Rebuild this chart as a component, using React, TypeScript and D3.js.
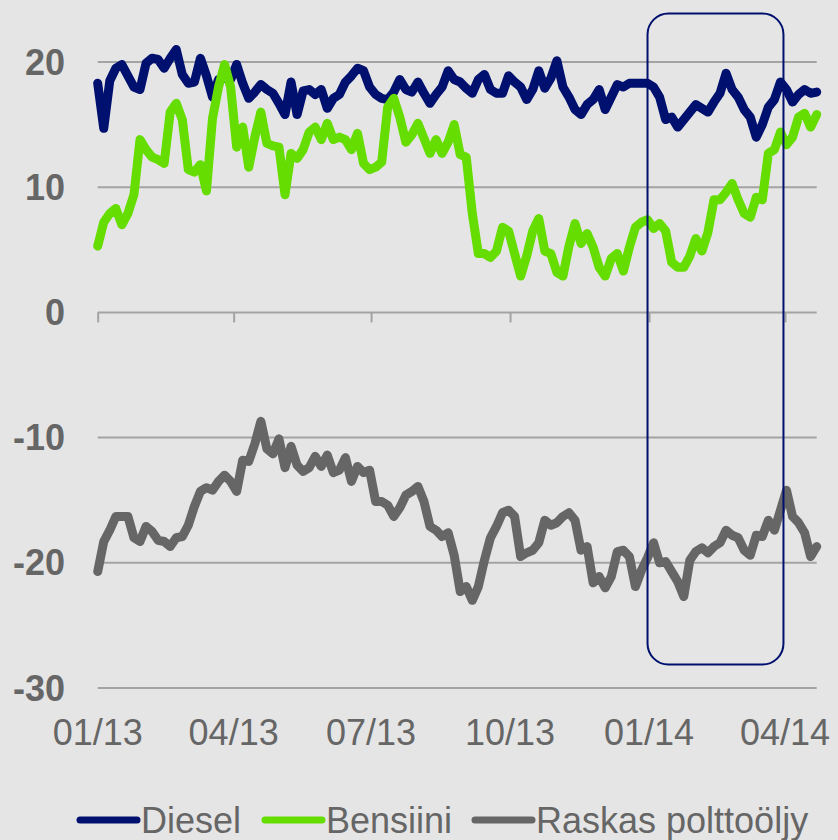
import React, { useRef, useEffect } from 'react';
import * as d3 from 'd3';

// readings every 4 days from 2013-01-01
const startDay = new Date(2013, 0, 1);
const stepDays = 4;

const diesel = [
  18.3, 14.7, 18.5, 19.5, 19.8, 18.9, 18.0, 17.8, 19.9, 20.3,
  20.2, 19.5, 20.3, 21.0, 19.0, 18.3, 18.4, 20.3, 18.9, 17.2,
  18.6, 18.7, 18.6, 19.8, 18.3, 17.1, 17.6, 18.2, 17.8, 17.5,
  16.7, 15.8, 18.4, 15.8, 17.7, 17.8, 17.4, 17.8, 16.3, 17.1,
  17.4, 18.4, 18.9, 19.5, 19.3, 18.0, 17.4, 17.1, 17.0, 17.6,
  18.6, 17.8, 17.6, 18.4, 17.5, 16.7, 17.4, 18.0, 19.3, 18.6,
  18.4, 17.9, 17.5, 18.6, 19.0, 17.8, 17.5, 17.5, 18.9, 18.4,
  18.0, 17.0, 17.8, 19.3, 17.9, 18.7, 20.1, 18.0, 17.2, 16.2,
  15.8, 16.6, 17.0, 17.8, 16.2, 17.2, 18.2, 18.0, 18.3, 18.3,
  18.3, 18.3, 18.0, 17.2, 15.4, 15.6, 14.8, 15.4, 16.0, 16.6,
  16.3, 16.0, 16.8, 17.5, 19.1, 17.8, 17.2, 16.2, 15.6, 14.0,
  15.0, 16.4, 17.0, 18.4, 17.8, 16.8, 17.4, 17.8, 17.5, 17.6,
];

const bensiini = [
  5.3, 7.2, 7.9, 8.3, 7.0, 7.9, 9.4, 13.8, 13.0, 12.4,
  12.2, 11.9, 16.0, 16.7, 15.4, 11.4, 11.2, 11.8, 9.7, 15.5,
  18.0, 19.8, 18.0, 13.2, 14.8, 11.6, 14.0, 16.0, 13.5, 13.3,
  13.2, 9.4, 12.7, 12.3, 13.0, 14.4, 14.8, 13.8, 15.1, 13.8,
  14.0, 13.8, 13.0, 14.3, 11.9, 11.4, 11.6, 12.0, 16.4, 17.1,
  15.6, 13.6, 14.2, 15.1, 13.9, 12.7, 13.8, 12.7, 13.6, 15.0,
  12.6, 12.4, 7.9, 4.7, 4.7, 4.4, 4.9, 6.8, 6.5, 4.7,
  2.9, 4.5, 6.5, 7.5, 4.9, 4.7, 3.2, 2.9, 5.3, 7.1,
  5.5, 6.3, 5.2, 3.6, 2.9, 4.3, 4.7, 3.3, 5.2, 6.8,
  7.2, 7.4, 6.7, 7.1, 6.5, 4.0, 3.6, 3.6, 4.5, 5.9,
  4.9, 6.4, 9.0, 9.0, 9.6, 10.3, 9.0, 7.9, 7.6, 9.2,
  9.0, 12.7, 13.0, 14.4, 13.4, 14.0, 15.6, 15.9, 14.8, 15.8,
];

const raskas = [
  -20.7, -18.3, -17.4, -16.3, -16.3, -16.3, -18.0, -18.3, -17.1, -17.5,
  -18.2, -18.3, -18.7, -18.0, -17.9, -17.0, -15.5, -14.3, -14.0, -14.2,
  -13.5, -13.0, -13.5, -14.3, -11.8, -11.9, -10.5, -8.7, -10.9, -11.3,
  -10.1, -12.4, -10.7, -12.2, -12.7, -12.4, -11.5, -12.3, -11.4, -12.8,
  -12.6, -11.6, -13.5, -12.3, -12.8, -12.6, -15.1, -15.1, -15.4, -16.3,
  -15.6, -14.6, -14.3, -13.9, -15.1, -17.1, -17.4, -17.9, -17.6, -19.4,
  -22.3, -21.9, -23.0, -21.9, -19.8, -18.0, -17.1, -16.0, -15.8, -16.3,
  -19.5, -19.2, -19.0, -18.4, -16.6, -17.0, -16.8, -16.3, -16.0, -16.6,
  -19.0, -18.7, -21.6, -21.1, -22.0, -21.1, -19.1, -19.0, -19.5, -21.9,
  -20.6, -19.6, -18.4, -20.0, -19.9, -20.7, -21.5, -22.7, -19.8, -19.1,
  -18.8, -19.2, -18.7, -18.4, -17.4, -17.8, -18.0, -19.0, -19.4, -17.8,
  -17.9, -16.6, -17.4, -15.8, -14.2, -16.3, -16.8, -17.6, -19.5, -18.7,
];

const seriesNames = ['Diesel', 'Bensiini', 'Raskas polttoöljy'];
const seriesColors = ['#00106e', '#66dd00', '#666666'];

const yTicks = [20, 10, 0, -10, -20, -30];
const quarterDates = [
  new Date(2013, 0, 1), new Date(2013, 3, 1), new Date(2013, 6, 1),
  new Date(2013, 9, 1), new Date(2014, 0, 1), new Date(2014, 3, 1),
];
const quarterLabels = ['01/13', '04/13', '07/13', '10/13', '01/14', '04/14'];

const W = 838;
const H = 840;

const App = () => {
  const ref = useRef<SVGSVGElement>(null);

  useEffect(() => {
    document.body.style.margin = '0';
    const svg = d3.select(ref.current);
    svg.selectAll('*').remove();

    svg.append('rect').attr('width', W).attr('height', H).attr('fill', '#e5e5e5');

    const x = d3.scaleTime()
      .domain([new Date(2013, 0, 1), new Date(2014, 3, 22)])
      .range([97.7, 816.7]);
    const y = d3.scaleLinear().domain([-30, 20]).range([688, 62]);

    // gridlines
    svg.append('g')
      .selectAll('line')
      .data(yTicks)
      .join('line')
      .attr('x1', x.range()[0])
      .attr('x2', x.range()[1])
      .attr('y1', d => y(d))
      .attr('y2', d => y(d))
      .attr('stroke', '#a3a3a3')
      .attr('stroke-width', 2);

    // quarter ticks hanging from the zero line
    const ax = svg.append('g')
      .attr('transform', `translate(0,${y(0)})`)
      .call(d3.axisBottom(x).tickValues(quarterDates).tickSize(10).tickFormat(() => ''));
    ax.select('.domain').remove();
    ax.selectAll('.tick line').attr('stroke', '#a3a3a3').attr('stroke-width', 2);

    // y labels
    svg.append('g')
      .selectAll('text')
      .data(yTicks)
      .join('text')
      .attr('x', 65)
      .attr('y', d => y(d) + 12.5)
      .attr('text-anchor', 'end')
      .attr('font-family', 'Liberation Sans, Arial, sans-serif')
      .attr('font-weight', 'bold')
      .attr('font-size', 36)
      .attr('fill', '#666666')
      .text(d => d);

    // x labels
    svg.append('g')
      .selectAll('text')
      .data(quarterDates)
      .join('text')
      .attr('x', d => x(d))
      .attr('y', 745)
      .attr('text-anchor', 'middle')
      .attr('font-family', 'Liberation Sans, Arial, sans-serif')
      .attr('font-size', 36)
      .attr('fill', '#666666')
      .text((d, i) => quarterLabels[i]);

    const dates = diesel.map((_, i) => d3.timeDay.offset(startDay, i * stepDays));
    const line = d3.line<number>()
      .x((d, i) => x(dates[i]))
      .y(d => y(d));

    [diesel, bensiini, raskas].forEach((s, k) => {
      svg.append('path')
        .datum(s)
        .attr('fill', 'none')
        .attr('stroke', seriesColors[k])
        .attr('stroke-width', 9)
        .attr('stroke-linejoin', 'round')
        .attr('stroke-linecap', 'round')
        .attr('d', line);
    });

    // highlight box around Jan-Mar 2014
    const bx0 = x(new Date(2013, 11, 31));
    const bx1 = x(new Date(2014, 2, 31));
    svg.append('rect')
      .attr('x', bx0)
      .attr('y', 13.5)
      .attr('width', bx1 - bx0)
      .attr('height', 651)
      .attr('rx', 21)
      .attr('fill', 'none')
      .attr('stroke', '#00106e')
      .attr('stroke-width', 2);

    // legend
    const legendX = [80, 265, 475];
    const lg = svg.append('g')
      .selectAll('g')
      .data(seriesNames)
      .join('g')
      .attr('transform', (d, i) => `translate(${legendX[i]},820)`);
    lg.append('line')
      .attr('x1', 0).attr('x2', 57)
      .attr('stroke', (d, i) => seriesColors[i])
      .attr('stroke-width', 7)
      .attr('stroke-linecap', 'round');
    lg.append('text')
      .attr('x', 61)
      .attr('y', 13)
      .attr('font-family', 'Liberation Sans, Arial, sans-serif')
      .attr('font-size', 36)
      .attr('fill', '#666666')
      .text(d => d);
  }, []);

  return <svg ref={ref} width={W} height={H} style={{ display: 'block' }}></svg>;
};

export default App;
